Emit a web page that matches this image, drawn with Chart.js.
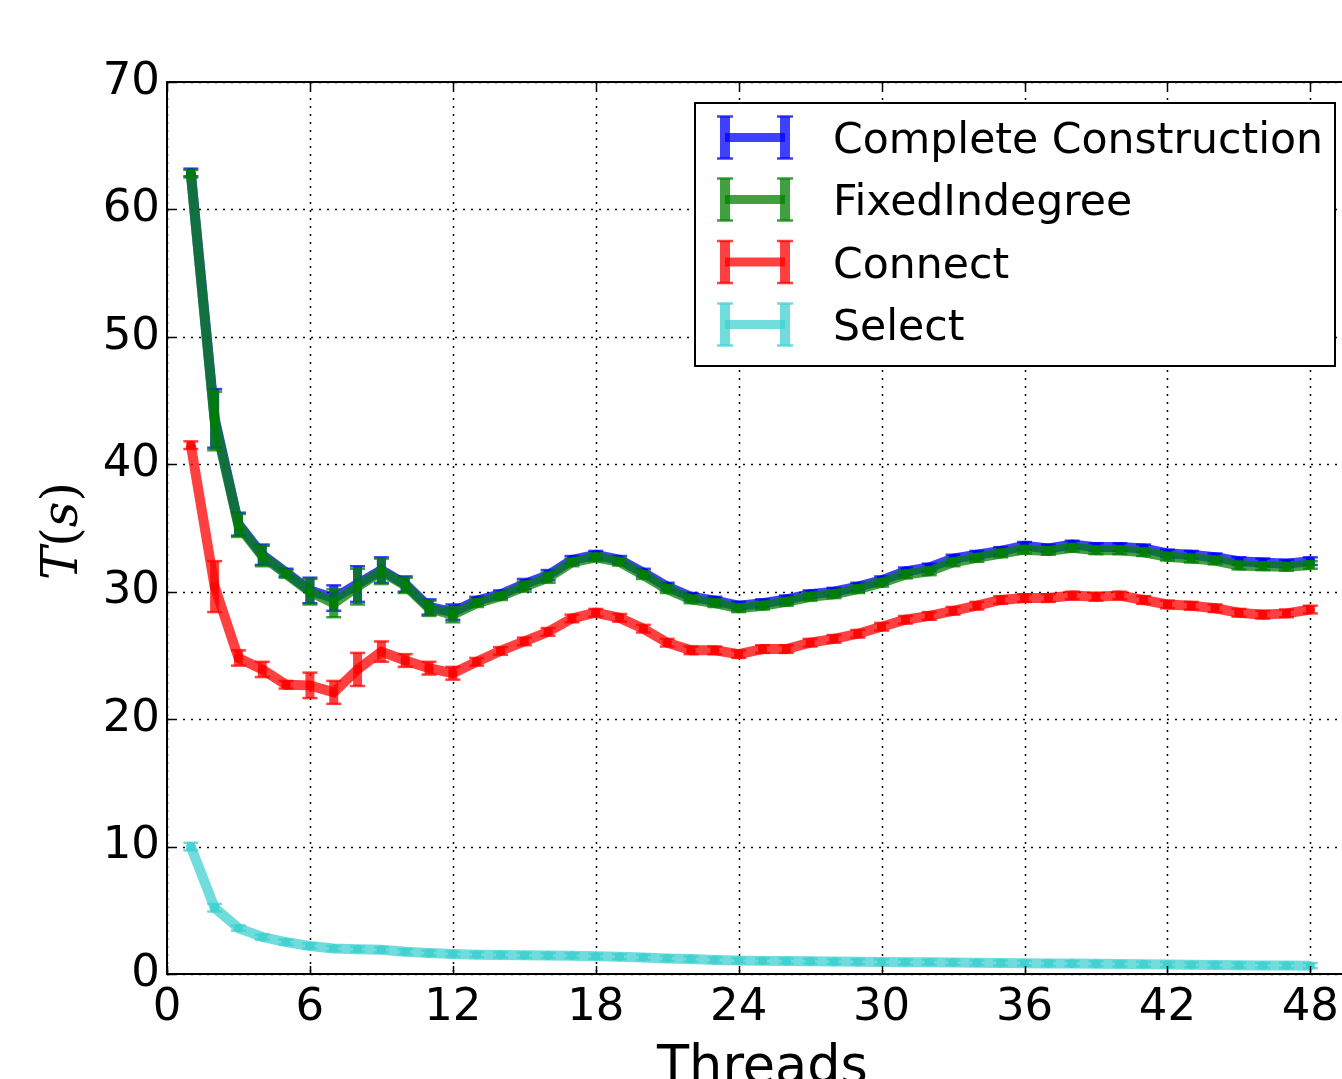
<!DOCTYPE html>
<html>
<head>
<meta charset="utf-8">
<script src="https://cdn.jsdelivr.net/npm/chart.js@4"></script>
<style>
  html, body { margin: 0; padding: 0; background: #fff; overflow: hidden; }
  #wrap { position: absolute; left: 0; top: 0; width: 1400px; height: 1130px; }
</style>
</head>
<body>
<div id="wrap"><canvas id="c" width="1400" height="1130"></canvas></div>
<script>
const threads = [1,2,3,4,5,6,7,8,9,10,11,12,13,14,15,16,17,18,19,20,21,22,23,24,25,26,27,28,29,30,31,32,33,34,35,36,37,38,39,40,41,42,43,44,45,46,47,48];
const xTicks = [0,6,12,18,24,30,36,42,48];
const yTicks = [0,10,20,30,40,50,60,70];
const seriesNames = ["Complete Construction","FixedIndegree","Connect","Select"];

const completeVals = [62.9,43.6,35.3,32.9,31.5,30.1,29.5,30.6,31.7,30.6,28.8,28.4,29.3,29.8,30.6,31.3,32.5,32.9,32.5,31.5,30.4,29.6,29.3,28.9,29.1,29.4,29.8,30.0,30.4,30.9,31.6,31.9,32.6,32.9,33.2,33.6,33.4,33.7,33.5,33.5,33.4,33.0,32.9,32.7,32.4,32.3,32.2,32.4];
const completeErr  = [0.3,2.3,0.9,0.8,0.3,1.0,1.0,1.4,1.0,0.6,0.6,0.6,0.3,0.3,0.4,0.4,0.3,0.3,0.3,0.3,0.3,0.3,0.3,0.3,0.3,0.3,0.3,0.3,0.3,0.3,0.3,0.3,0.3,0.3,0.3,0.3,0.3,0.3,0.3,0.3,0.3,0.3,0.3,0.3,0.3,0.3,0.3,0.3];
const fixedVals    = [62.8,43.4,35.2,32.8,31.4,30.0,29.1,30.4,31.6,30.5,28.7,28.2,29.1,29.65,30.4,31.1,32.3,32.7,32.35,31.3,30.2,29.4,29.1,28.7,28.9,29.2,29.6,29.8,30.2,30.7,31.35,31.6,32.3,32.65,33.0,33.3,33.2,33.45,33.25,33.25,33.1,32.75,32.6,32.45,32.05,32.0,31.95,32.1];
const fixedErr     = [0.3,2.3,0.9,0.8,0.3,1.0,1.1,1.4,1.0,0.6,0.6,0.6,0.3,0.3,0.4,0.4,0.3,0.3,0.3,0.3,0.3,0.3,0.3,0.3,0.3,0.3,0.3,0.3,0.3,0.3,0.3,0.3,0.3,0.3,0.3,0.3,0.3,0.3,0.3,0.3,0.3,0.3,0.3,0.3,0.3,0.3,0.3,0.3];
const connectVals  = [41.5,30.4,24.8,23.9,22.7,22.65,22.1,23.9,25.3,24.6,24.0,23.6,24.5,25.35,26.1,26.85,27.9,28.35,27.95,27.1,26.0,25.4,25.4,25.1,25.5,25.5,26.0,26.3,26.7,27.25,27.8,28.1,28.5,28.9,29.35,29.5,29.5,29.7,29.6,29.7,29.35,29.0,28.9,28.7,28.35,28.2,28.3,28.6];
const connectErr   = [0.3,2.0,0.6,0.6,0.3,1.0,0.9,1.3,0.8,0.5,0.5,0.5,0.3,0.3,0.3,0.3,0.3,0.3,0.3,0.3,0.3,0.3,0.3,0.3,0.3,0.3,0.3,0.3,0.3,0.3,0.3,0.3,0.3,0.3,0.3,0.3,0.3,0.3,0.3,0.3,0.3,0.3,0.3,0.3,0.3,0.3,0.3,0.3];
const selectVals   = [10.0,5.2,3.6,2.9,2.5,2.2,2.0,1.95,1.9,1.75,1.65,1.57,1.52,1.5,1.47,1.45,1.43,1.4,1.35,1.3,1.22,1.17,1.1,1.05,1.03,1.02,1.0,0.98,0.96,0.95,0.93,0.92,0.9,0.88,0.87,0.85,0.83,0.82,0.8,0.78,0.76,0.74,0.72,0.7,0.69,0.67,0.66,0.65];
const selectErr    = [0.3,0.3,0.2,0.2,0.2,0.2,0.2,0.2,0.2,0.2,0.2,0.2,0.2,0.2,0.2,0.2,0.2,0.2,0.2,0.2,0.2,0.2,0.2,0.2,0.2,0.2,0.2,0.2,0.2,0.2,0.2,0.2,0.2,0.2,0.2,0.2,0.2,0.2,0.2,0.2,0.2,0.2,0.2,0.2,0.2,0.2,0.2,0.2];

const colors = ['rgba(0,0,255,0.75)','rgba(0,128,0,0.75)','rgba(255,0,0,0.75)','rgba(64,208,208,0.75)'];
const allVals = [completeVals, fixedVals, connectVals, selectVals];
const allErr = [completeErr, fixedErr, connectErr, selectErr];

const datasets = allVals.map((vals, k) => ({
  label: seriesNames[k],
  data: threads.map((t, i) => ({x: t, y: vals[i]})),
  errors: allErr[k],
  borderColor: colors[k],
  backgroundColor: colors[k],
  borderWidth: 10,
  pointRadius: 4.5,
  pointBorderWidth: 0,
  pointBackgroundColor: colors[k],
  tension: 0,
  fill: false,
  order: 4 - k
}));

const FONT = '"DejaVu Sans", sans-serif';

const errorBars = {
  id: 'errorBars',
  afterDatasetDraw(chart, args) {
    const ds = chart.data.datasets[args.index];
    const xs = chart.scales.x, ys = chart.scales.y, ctx = chart.ctx;
    ctx.save();
    ctx.strokeStyle = ds.borderColor;
    ds.data.forEach((p, i) => {
      const e = ds.errors[i];
      const px = xs.getPixelForValue(p.x);
      const y1 = ys.getPixelForValue(p.y + e), y2 = ys.getPixelForValue(p.y - e);
      ctx.lineWidth = 9;
      ctx.beginPath(); ctx.moveTo(px, y1); ctx.lineTo(px, y2); ctx.stroke();
      ctx.lineWidth = 2.5;
      ctx.beginPath(); ctx.moveTo(px - 7.5, y1); ctx.lineTo(px + 7.5, y1); ctx.stroke();
      ctx.beginPath(); ctx.moveTo(px - 7.5, y2); ctx.lineTo(px + 7.5, y2); ctx.stroke();
    });
    ctx.restore();
  }
};

const frame = {
  id: 'frame',
  beforeDatasetsDraw(chart) {
    const {ctx, chartArea: a} = chart;
    const xs = chart.scales.x, ys = chart.scales.y;
    ctx.save();
    ctx.strokeStyle = '#000';
    ctx.lineWidth = 1.5;
    ctx.setLineDash([2, 6]);
    xTicks.forEach(v => { const p = Math.round(xs.getPixelForValue(v)) + 0.5; ctx.beginPath(); ctx.moveTo(p, a.top); ctx.lineTo(p, a.bottom); ctx.stroke(); });
    yTicks.forEach(v => { const p = Math.round(ys.getPixelForValue(v)) + 0.5; ctx.beginPath(); ctx.moveTo(a.left, p); ctx.lineTo(a.right, p); ctx.stroke(); });
    ctx.restore();
  },
  afterDatasetsDraw(chart) {
    const {ctx, chartArea: a} = chart;
    const xs = chart.scales.x, ys = chart.scales.y;
    ctx.save();
    ctx.strokeStyle = '#000';
    ctx.lineWidth = 2;
    ctx.strokeRect(a.left, a.top, a.right - a.left, a.bottom - a.top);
    ctx.lineWidth = 1.5;
    xTicks.forEach(v => { const p = Math.round(xs.getPixelForValue(v)) + 0.5;
      ctx.beginPath(); ctx.moveTo(p, a.bottom); ctx.lineTo(p, a.bottom - 8); ctx.stroke();
      ctx.beginPath(); ctx.moveTo(p, a.top); ctx.lineTo(p, a.top + 8); ctx.stroke(); });
    yTicks.forEach(v => { const p = Math.round(ys.getPixelForValue(v)) + 0.5;
      ctx.beginPath(); ctx.moveTo(a.left, p); ctx.lineTo(a.left + 8, p); ctx.stroke();
      ctx.beginPath(); ctx.moveTo(a.right, p); ctx.lineTo(a.right - 8, p); ctx.stroke(); });
    ctx.restore();
  },
  afterDraw(chart) {
    const ctx = chart.ctx;
    const a = chart.chartArea;
    ctx.save();
    // legend
    const bx = 695, by = 103, bw = 640, bh = 263;
    ctx.fillStyle = '#fff';
    ctx.fillRect(bx, by, bw, bh);
    ctx.strokeStyle = '#000'; ctx.lineWidth = 2;
    ctx.strokeRect(bx, by, bw, bh);
    const baselines = [153, 215, 277.5, 340];
    chart.data.datasets.forEach((ds, k) => {
      const cy = baselines[k] - 15.5;
      ctx.strokeStyle = ds.borderColor;
      ctx.lineWidth = 9;
      ctx.beginPath(); ctx.moveTo(725, cy); ctx.lineTo(785, cy); ctx.stroke();
      [725, 785].forEach(x => {
        ctx.lineWidth = 10;
        ctx.beginPath(); ctx.moveTo(x, cy - 21); ctx.lineTo(x, cy + 21); ctx.stroke();
        ctx.lineWidth = 2.5;
        ctx.beginPath(); ctx.moveTo(x - 8, cy - 21); ctx.lineTo(x + 8, cy - 21); ctx.stroke();
        ctx.beginPath(); ctx.moveTo(x - 8, cy + 21); ctx.lineTo(x + 8, cy + 21); ctx.stroke();
      });
      ctx.fillStyle = '#000';
      ctx.font = '42.6px ' + FONT;
      ctx.textAlign = 'left'; ctx.textBaseline = 'alphabetic';
      ctx.fillText(ds.label, 833, baselines[k]);
    });
    // x title
    ctx.fillStyle = '#000';
    ctx.font = '52.5px ' + FONT;
    ctx.textAlign = 'center'; ctx.textBaseline = 'alphabetic';
    ctx.fillText('Threads', (a.left + a.right) / 2, 1083);
    // y title: T(s) in math style
    ctx.translate(77, 531);
    ctx.rotate(-Math.PI / 2);
    const parts = [['T', 'italic 50px "DejaVu Serif", serif'], ['(', '50px "DejaVu Serif", serif'], ['s', 'italic 50px "DejaVu Serif", serif'], [')', '50px "DejaVu Serif", serif']];
    let total = 0;
    parts.forEach(p => { ctx.font = p[1]; total += ctx.measureText(p[0]).width; });
    let x = -total / 2;
    ctx.textAlign = 'left';
    parts.forEach(p => { ctx.font = p[1]; ctx.fillText(p[0], x, 0); x += ctx.measureText(p[0]).width; });
    ctx.restore();
  }
};

new Chart(document.getElementById('c'), {
  type: 'line',
  data: { datasets },
  options: {
    responsive: false,
    animation: false,
    events: [],
    layout: { padding: { left: 0, top: 82, right: 42, bottom: 0 } },
    plugins: { legend: { display: false }, tooltip: { enabled: false } },
    scales: {
      x: {
        type: 'linear', min: 0, max: 50,
        afterBuildTicks(s) { s.ticks = xTicks.map(v => ({value: v})); },
        afterFit(s) { s.height = 1130 - 974; },
        grid: { display: false, drawTicks: false },
        border: { display: false },
        ticks: { padding: 7, color: '#000', font: { family: FONT, size: 45 }, maxRotation: 0, autoSkip: false }
      },
      y: {
        type: 'linear', min: 0, max: 70,
        afterBuildTicks(s) { s.ticks = yTicks.map(v => ({value: v})); },
        afterFit(s) { s.width = 167; },
        grid: { display: false, drawTicks: false },
        border: { display: false },
        ticks: { padding: 7, color: '#000', font: { family: FONT, size: 45 } }
      }
    }
  },
  plugins: [errorBars, frame]
});
</script>
</body>
</html>
